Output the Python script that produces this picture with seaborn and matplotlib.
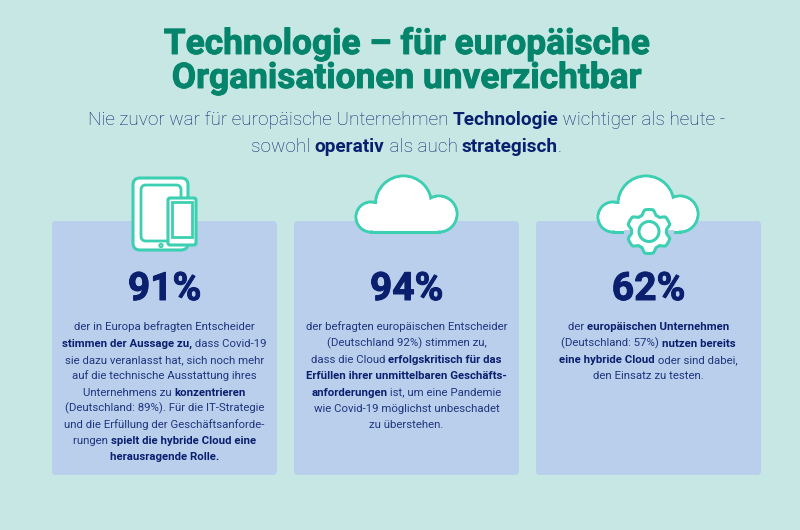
import numpy as np
import matplotlib
matplotlib.use('Agg')
import matplotlib.pyplot as plt
import matplotlib.patheffects as pe
import seaborn as sns
from matplotlib.font_manager import FontProperties
from matplotlib.patches import Circle, FancyBboxPatch, Polygon, Rectangle

# texts and values
title_lines = ['Technologie – für europäische', 'Organisationen unverzichtbar']
subtitle_lines = ['Nie zuvor war für europäische Unternehmen **Technologie** wichtiger als heute -',
                  'sowohl **operativ** als auch **strategisch**.']
percent_values = [91, 94, 62]
card_1_lines = ['der in Europa befragten Entscheider',
                '**stimmen der Aussage zu,** dass Covid-19',
                'sie dazu veranlasst hat, sich noch mehr',
                'auf die technische Ausstattung ihres',
                'Unternehmens zu **konzentrieren**',
                '(Deutschland: 89%). Für die IT-Strategie',
                'und die Erfüllung der Geschäftsanforde-',
                'rungen **spielt die hybride Cloud eine**',
                '**herausragende Rolle.**']
card_2_lines = ['der befragten europäischen Entscheider',
                '(Deutschland 92%) stimmen zu,',
                'dass die Cloud **erfolgskritisch für das**',
                '**Erfüllen ihrer unmittelbaren Geschäfts-**',
                '**anforderungen** ist, um eine Pandemie',
                'wie Covid-19 möglichst unbeschadet',
                'zu überstehen.']
card_3_lines = ['der **europäischen Unternehmen**',
                '(Deutschland: 57%) **nutzen bereits**',
                '**eine hybride Cloud** oder sind dabei,',
                'den Einsatz zu testen.']
card_lines = [card_1_lines, card_2_lines, card_3_lines]

BG = '#c7e7e4'
CARD = '#b9cfec'
TEAL = '#3dcfb1'
GREEN = '#04856b'
NAVY = '#0b1f6f'
BODY = '#20367f'
LIGHT_TEXT = '#0f2570'

sns.set_theme(style='white')
plt.rcParams['font.family'] = ['Roboto', 'DejaVu Sans']

fig = plt.figure(figsize=(8, 5.3), dpi=100, facecolor=BG)
ax = fig.add_axes([0, 0, 1, 1])
ax.set_xlim(0, 800)
ax.set_ylim(530, 0)
ax.axis('off')
renderer = fig.canvas.get_renderer()


def px(size):
    return size * 0.72


def text_width(s, fp):
    # the bars keep trailing spaces in the measurement
    w1 = renderer.get_text_width_height_descent('|' + s + '|', fp, False)[0]
    w0 = renderer.get_text_width_height_descent('||', fp, False)[0]
    return w1 - w0


def mixed_line(cx, y, line, size, color, bold_color, base_weight='normal', zorder=5):
    parts = line.split('**')
    runs = [(p, i % 2 == 1) for i, p in enumerate(parts) if p]
    fps = [FontProperties(family='Roboto', size=px(size), weight='bold' if b else base_weight) for _, b in runs]
    widths = [text_width(r[0], fp) for r, fp in zip(runs, fps)]
    x = cx - sum(widths) / 2
    for (s, b), fp, w in zip(runs, fps, widths):
        ax.text(x, y, s, fontproperties=fp, color=bold_color if b else color,
                ha='left', va='baseline', zorder=zorder)
        x += w


def cloud(big, left, right, lw=2.2, base_z=3):
    # each circle is (x, y, r)
    inset = lw / 0.72 / 2
    circles = [big, left, right]
    x0, x1 = left[0], right[0]
    bottom = left[1] + left[2]
    for cx, cy, r in circles:
        ax.add_patch(Circle((cx, cy), r, fc='white', ec=TEAL, lw=lw, zorder=base_z))
    ax.add_patch(Rectangle((x0, big[1]), x1 - x0, bottom - big[1], fc='white', ec=TEAL, lw=lw, zorder=base_z))
    # white on top hides the inner outlines
    for cx, cy, r in circles:
        ax.add_patch(Circle((cx, cy), r - inset, fc='white', ec='none', zorder=base_z + 1))
    ax.add_patch(Rectangle((x0, big[1]), x1 - x0, bottom - big[1] - inset, fc='white', ec='none', zorder=base_z + 1))


def gear(cx, cy, r_out, r_in, r_hole, teeth=6):
    theta = np.linspace(0, 2 * np.pi, 240, endpoint=False)
    profile = np.clip(1.7 * np.cos(teeth * (theta + np.pi / 2)) + 0.35, -1, 1)
    radius = r_in + (r_out - r_in) * (profile + 1) / 2
    pts = np.column_stack([cx + radius * np.cos(theta), cy + radius * np.sin(theta)])
    # gap in the cloud's bottom line on both sides of the gear
    ax.add_patch(Rectangle((cx - r_out - 3, 230.3), 2 * r_out + 6, 3.4, fc=CARD, ec='none', zorder=5))
    ax.add_patch(Polygon(pts, closed=True, fc='white', ec=TEAL, lw=2.2, joinstyle='round', zorder=6))
    ax.add_patch(Circle((cx, cy), r_hole, fc='white', ec=TEAL, lw=2.2, zorder=7))


def round_box(x0, y0, x1, y1, r, fc, ec='none', lw=0, zorder=3):
    ax.add_patch(FancyBboxPatch((x0, y0), x1 - x0, y1 - y0, boxstyle=f'round,pad=0,rounding_size={r}',
                                fc=fc, ec=ec, lw=lw, zorder=zorder))


# header, a thin stroke brings the bold closer to the heavy weight of the original
heavy = lambda c: [pe.withStroke(linewidth=0.7, foreground=c)]
for y, line in zip([54, 88], title_lines):
    ax.text(406.5, y, line, fontsize=px(35.3), fontweight='bold', color=GREEN, ha='center', va='baseline',
            path_effects=heavy(GREEN))
for y, line in zip([125, 151.5], subtitle_lines):
    mixed_line(406.5, y, line, 19.05, LIGHT_TEXT, NAVY, base_weight='light')

# cards
card_lefts = [52, 294, 536]
for left, value, lines in zip(card_lefts, percent_values, card_lines):
    round_box(left, 221, left + 225, 475, 4, CARD, zorder=1)
    cx = left + 112.5
    ax.text(cx, 300, f'{value}%', fontsize=px(39), fontweight='bold', color=NAVY, ha='center', va='baseline',
            path_effects=heavy(NAVY))
    for i, line in enumerate(lines):
        mixed_line(cx, 330.5 + i * 16.25, line, 11.4, BODY, NAVY)

# icon 1: tablet and phone
round_box(133, 178, 188, 250, 7, 'white', TEAL, 2.2)
round_box(141, 185, 181, 241, 5, 'white', TEAL, 2)
ax.add_patch(Circle((161, 245.5), 1.6, fc='white', ec=TEAL, lw=1.5, zorder=3))
round_box(168, 198, 196, 245, 2, 'white', TEAL, 2.2, zorder=4)
ax.add_patch(Rectangle((172, 202), 20, 35, fc='white', ec=TEAL, lw=2, zorder=4))

# icon 2: cloud
cloud((403.5, 204, 28), (371, 217, 15), (439, 214, 18))

# icon 3: cloud with gear
cloud((646, 204, 28), (613, 217, 15), (680, 214, 18))
gear(649, 231.5, 22, 17.5, 10)

fig.savefig('out.png', dpi=100, facecolor=BG)
